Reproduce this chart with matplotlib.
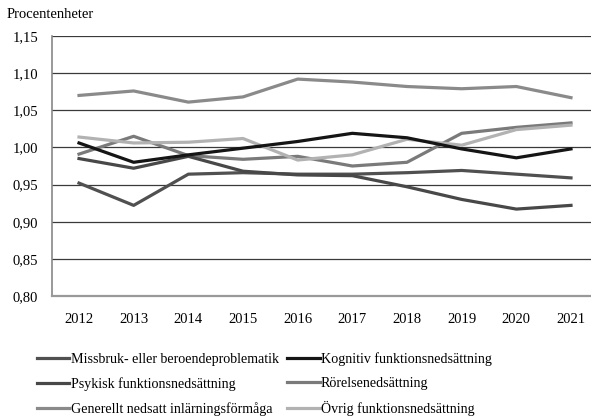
import matplotlib
matplotlib.use("Agg")
import matplotlib.pyplot as plt
from matplotlib.ticker import FuncFormatter, FixedLocator

years = [2012, 2013, 2014, 2015, 2016, 2017, 2018, 2019, 2020, 2021]
missbruk = [0.952, 0.922, 0.964, 0.966, 0.964, 0.964, 0.966, 0.969, 0.964, 0.959]
kognitiv = [1.006, 0.980, 0.990, 0.999, 1.008, 1.019, 1.013, 0.998, 0.986, 0.998]
psykisk = [0.985, 0.972, 0.988, 0.968, 0.963, 0.962, 0.947, 0.930, 0.917, 0.922]
rorelse = [0.991, 1.015, 0.989, 0.984, 0.988, 0.975, 0.980, 1.019, 1.027, 1.033]
generellt = [1.070, 1.076, 1.061, 1.068, 1.092, 1.088, 1.082, 1.079, 1.082, 1.067]
ovrig = [1.014, 1.006, 1.007, 1.012, 0.983, 0.990, 1.011, 1.003, 1.024, 1.030]

labels = {
    "missbruk": "Missbruk- eller beroendeproblematik",
    "kognitiv": "Kognitiv funktionsnedsättning",
    "psykisk": "Psykisk funktionsnedsättning",
    "rorelse": "Rörelsenedsättning",
    "generellt": "Generellt nedsatt inlärningsförmåga",
    "ovrig": "Övrig funktionsnedsättning",
}
yticks = [0.80, 0.85, 0.90, 0.95, 1.00, 1.05, 1.10, 1.15]

plt.rcParams['font.family'] = ['Liberation Serif', 'DejaVu Serif']
fs = 10.5
lfs = 10.1

fig = plt.figure(figsize=(5.91, 4.18), dpi=100)
ax = fig.add_axes([52/591, 122/418, 539/591, 260/418])

lw = 2.3
h = {}
h["generellt"], = ax.plot(years, generellt, color="#8a8a8a", lw=lw)
h["rorelse"], = ax.plot(years, rorelse, color="#7a7a7a", lw=lw)
h["ovrig"], = ax.plot(years, ovrig, color="#b2b2b2", lw=lw)
h["missbruk"], = ax.plot(years, missbruk, color="#505050", lw=lw)
h["psykisk"], = ax.plot(years, psykisk, color="#484848", lw=lw)
h["kognitiv"], = ax.plot(years, kognitiv, color="#151515", lw=lw)

ax.set_xlim(2011.506, 2021.366)
ax.set_ylim(0.80, 1.15)
ax.yaxis.set_major_locator(FixedLocator(yticks))
ax.yaxis.set_major_formatter(FuncFormatter(lambda v, p: f"{v:.2f}".replace(".", ",")))
ax.set_xticks(years)
ax.set_xticklabels([str(y) for y in years])
ax.grid(axis='y', color="#3a3a3a", lw=0.9)
ax.set_axisbelow(True)
ax.tick_params(length=0, labelsize=fs)
ax.tick_params(axis='y', pad=10)
ax.tick_params(axis='x', pad=12)
for s in ["top", "right"]:
    ax.spines[s].set_visible(False)
ax.spines["left"].set_color("#888888")
ax.spines["left"].set_linewidth(1.2)
ax.spines["bottom"].set_color("#999999")
ax.spines["bottom"].set_linewidth(1.6)

fig.text(7/591, 1 - 15/418, "Procentenheter", fontsize=fs, va='center', ha='left')

order = ["missbruk", "psykisk", "generellt", "kognitiv", "rorelse", "ovrig"]
fig.legend([h[k] for k in order], [labels[k] for k in order], ncol=2,
           loc='upper left', bbox_to_anchor=(37/591, 1 - 352/418),
           frameon=False, fontsize=lfs, handlelength=2.3, handletextpad=0.1,
           columnspacing=0.62, labelspacing=0.8, borderaxespad=0, borderpad=0)

fig.savefig("out.png", dpi=100)
